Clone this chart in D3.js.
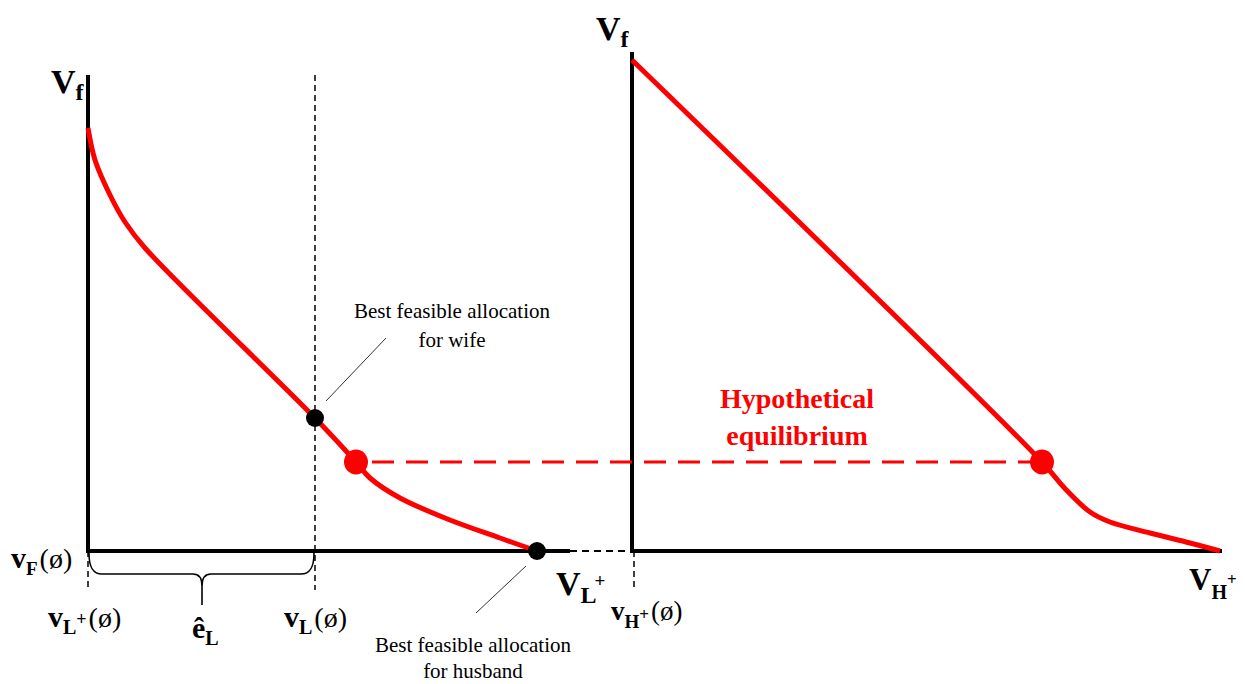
<!DOCTYPE html>
<html><head><meta charset="utf-8">
<script src="https://cdnjs.cloudflare.com/ajax/libs/d3/7.8.5/d3.min.js"></script>
<style>body{margin:0;background:#fff}svg{display:block}</style>
</head><body><svg id="c" width="1245" height="684"></svg>
<script>
// Data (abstract utility units)
const leftCurve = [[0,84.6],[1.4,78.2],[4.4,71.2],[7.4,65.8],[11.4,60.6],[45.4,26.6],[53.6,17.8],[56.4,14.6],[62.4,10.6],[72.4,6.2],[82.4,2.6],[89.8,0]];
const rightCurve = [[0,98.2],[82,17.8],[86.5,12.6],[91.6,7.8],[95.6,5.8],[103.6,3.6],[111.6,1.6],[117.6,0]];
const wifeBest = [45.4,26.6];
const husbandBest = [89.8,0];
const eqLeft = [53.6,17.8];
const eqRight = [82,17.8];
const leftAxisMax = [96.4, 95.2];
const rightAxisMax = [118, 99.8];

const FONT = "Liberation Serif";
const svg = d3.select("#c");
const y = d3.scaleLinear().domain([0,100]).range([551,51]);
const xL = d3.scaleLinear().domain([0,100]).range([88,588]);
const xR = d3.scaleLinear().domain([0,100]).range([632,1132]);
const red = "#ff0000";

// axes
function axes(x, max){
  svg.append("line").attr("x1",x(0)).attr("x2",x(0)).attr("y1",y(max[1])).attr("y2",y(0)+2).attr("stroke","#000").attr("stroke-width",4);
  svg.append("line").attr("x1",x(0)).attr("x2",x(max[0])).attr("y1",y(0)).attr("y2",y(0)).attr("stroke","#000").attr("stroke-width",4);
}
axes(xL, leftAxisMax);
axes(xR, rightAxisMax);

// dashed guides
svg.append("line").attr("x1",xL(leftAxisMax[0])).attr("x2",xR(0)).attr("y1",y(0)).attr("y2",y(0)).attr("stroke","#000").attr("stroke-width",2).attr("stroke-dasharray","7,5");
svg.append("line").attr("x1",xL(wifeBest[0])).attr("x2",xL(wifeBest[0])).attr("y1",y(95.2)).attr("y2",y(-7.8)).attr("stroke","#000").attr("stroke-width",1.5).attr("stroke-dasharray","6,4");
svg.append("line").attr("x1",xL(0)).attr("x2",xL(0)).attr("y1",y(0)).attr("y2",y(-7.6)).attr("stroke","#000").attr("stroke-width",1.5).attr("stroke-dasharray","6,4");
svg.append("line").attr("x1",xR(0.4)).attr("x2",xR(0.4)).attr("y1",y(0)).attr("y2",y(-7.4)).attr("stroke","#000").attr("stroke-width",1.5).attr("stroke-dasharray","6,4");

// red equilibrium dashed line
svg.append("line").attr("x1",xL(eqLeft[0])+16).attr("x2",xR(eqRight[0])).attr("y1",y(eqLeft[1])).attr("y2",y(eqRight[1])).attr("stroke",red).attr("stroke-width",3).attr("stroke-dasharray","22,12");

// curves
const lineL = d3.line().x(d=>xL(d[0])).y(d=>y(d[1])).curve(d3.curveCatmullRom.alpha(0.5));
const lineR = d3.line().x(d=>xR(d[0])).y(d=>y(d[1])).curve(d3.curveCatmullRom.alpha(0.5));
svg.append("path").attr("d",lineL(leftCurve)).attr("fill","none").attr("stroke",red).attr("stroke-width",5);
svg.append("path").attr("d",lineR(rightCurve)).attr("fill","none").attr("stroke",red).attr("stroke-width",5);

// dots
svg.append("circle").attr("cx",xL(wifeBest[0])).attr("cy",y(wifeBest[1])).attr("r",9).attr("fill","#000");
svg.append("circle").attr("cx",xL(husbandBest[0])).attr("cy",y(husbandBest[1])).attr("r",9).attr("fill","#000");
svg.append("ellipse").attr("cx",xL(eqLeft[0])).attr("cy",y(eqLeft[1])).attr("rx",12).attr("ry",12.5).attr("fill",red);
svg.append("ellipse").attr("cx",xR(eqRight[0])).attr("cy",y(eqRight[1])).attr("rx",12).attr("ry",12.5).attr("fill",red);

// leader lines
svg.append("line").attr("x1",326).attr("y1",401).attr("x2",386).attr("y2",338).attr("stroke","#333").attr("stroke-width",1);
svg.append("line").attr("x1",526).attr("y1",566).attr("x2",476).attr("y2",613).attr("stroke","#333").attr("stroke-width",1);

// brace
const bx0 = xL(0), bx1 = xL(wifeBest[0]), bm = (bx0+bx1)/2+0.5;
svg.append("path").attr("d",
  `M${bx0+1},553 C${bx0+1},566 ${bx0+4},574 ${bx0+14},574 L${bm-9},574 C${bm-3},574 ${bm},578 ${bm},586 L${bm},605 M${bm},586 C${bm},578 ${bm+3},574 ${bm+9},574 L${bx1-14},574 C${bx1-4},574 ${bx1-1},566 ${bx1-1},553`)
  .attr("fill","none").attr("stroke","#000").attr("stroke-width",1.6);

// labels
function label(x0, yb, parts){
  const t = svg.append("text").attr("x",x0).attr("y",yb).attr("fill","#000").style("font-family",FONT);
  parts.forEach(p=>{
    const s = t.append("tspan").text(p.t).style("font-family",FONT).attr("font-size",p.s).attr("font-weight",p.b?"bold":"normal");
    if(p.dy!==undefined) s.attr("dy",p.dy);
    if(p.dx!==undefined) s.attr("dx",p.dx);
  });
  return t;
}
label(51,93,[{t:"V",s:34,b:1},{t:"f",s:24,b:1,dy:7}]);
label(596,40,[{t:"V",s:34,b:1},{t:"f",s:24,b:1,dy:7}]);
label(11,568,[{t:"v",s:30,b:1},{t:"F",s:19,b:1,dy:7},{t:"(ø)",s:28,dy:-7,dx:2}]);
label(48,627,[{t:"v",s:30,b:1},{t:"L",s:20,b:1,dy:7},{t:"+",s:18,b:1,dy:-9},{t:"(ø)",s:28,dy:2,dx:2}]);
label(284,627,[{t:"v",s:30,b:1},{t:"L",s:20,b:1,dy:7},{t:"(ø)",s:28,dy:-7,dx:2}]);
label(192,638,[{t:"ê",s:30,b:1},{t:"L",s:20,b:1,dy:7}]);
label(556,595,[{t:"V",s:34,b:1},{t:"L",s:24,b:1,dy:8},{t:"+",s:19,b:1,dy:-16,dx:-2}]);
label(611,620,[{t:"v",s:27,b:1},{t:"H",s:19,b:1,dy:8},{t:"+",s:17,b:1,dy:-8},{t:"(ø)",s:27,dy:0,dx:2}]);
label(1189,590,[{t:"V",s:31,b:1},{t:"H",s:20,b:1,dy:9},{t:"+",s:17,b:1,dy:-14}]);

function center(x0,yb,txt,size,col,bold){
  svg.append("text").attr("x",x0).attr("y",yb).attr("text-anchor","middle").attr("font-size",size)
    .style("font-family",FONT).attr("font-weight",bold?"bold":"normal").attr("fill",col).text(txt);
}
center(452,318,"Best feasible allocation",21,"#000");
center(452,347,"for wife",21,"#000");
center(473,652,"Best feasible allocation",21,"#000");
center(473,678,"for husband",21,"#000");
center(797,408,"Hypothetical",28,red,1);
center(797,445,"equilibrium",28,red,1);
</script></body></html>
